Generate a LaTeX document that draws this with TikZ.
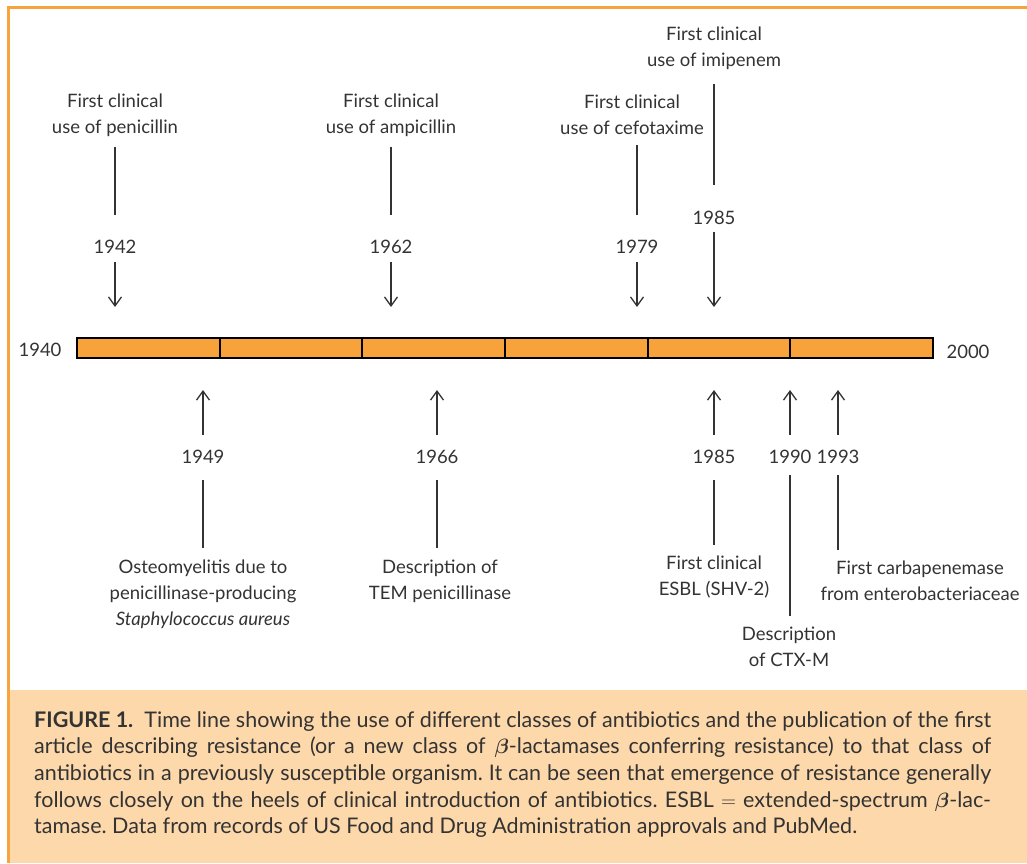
\documentclass[tikz,border=0pt]{standalone}
\usepackage{amsmath}
\usepackage{fontspec}
\setmainfont{Lato}
\usepackage{tikz}
\usetikzlibrary{arrows.meta}
\usepackage{xcolor}
\definecolor{frame orange}{RGB}{247,164,60}
\definecolor{bar orange}{RGB}{248,162,60}
\definecolor{caption tan}{RGB}{253,216,170}
\colorlet{ink}{black!80}
\newcommand{\boldbeta}{{\boldmath$\beta$}}

\begin{document}
\begin{tikzpicture}[x=1pt,y=-1pt,
		event/.style={align=center, inner sep=0pt, text=ink, font=\fontsize{18.5}{26}\selectfont},
		year/.style={inner sep=0pt, text=ink, font=\fontsize{18.5}{26}\selectfont},
		lead/.style={line width=1.3pt, color=ink},
		pointer/.style={line width=1.3pt, color=ink, -{Straight Barb[length=9pt,width=13pt,line width=1.3pt]}}]
			\useasboundingbox (0,0) rectangle (1027,863);
			% frame and caption panel
			\fill[caption tan] (9.5,690) rectangle (1027,863);
			\draw[frame orange, line width=3pt] (1027,7) -- (8,7) -- (8,863);
			% the time bar
			\draw[fill=bar orange, line width=2pt] (77,338) rectangle (933,358);
			\draw[line width=2pt] (220,338) -- (220,358);
			\draw[line width=2pt] (362,338) -- (362,358);
			\draw[line width=2pt] (505,338) -- (505,358);
			\draw[line width=2pt] (648,338) -- (648,358);
			\draw[line width=2pt] (790,338) -- (790,358);
			\node[year] (start) at (40,350) {1940};
			\node[year] (end) at (968,352) {2000};
			% clinical use, above the bar
			\node[event] (pen) at (115,115) {First clinical\\use of penicillin};
			\node[year] (y42) at (115,247) {1942};
			\coordinate (a42) at (115,307);
			\draw[lead, shorten <=10pt, shorten >=25pt] (pen) -- (y42);
			\draw[pointer, shorten <=8pt] (y42) -- (a42);
			\node[event] (amp) at (391,115) {First clinical\\use of ampicillin};
			\node[year] (y62) at (391,247) {1962};
			\coordinate (a62) at (391,307);
			\draw[lead, shorten <=10pt, shorten >=25pt] (amp) -- (y62);
			\draw[pointer, shorten <=8pt] (y62) -- (a62);
			\node[event] (cef) at (632,115) {First clinical\\use of cefotaxime};
			\node[year] (y79) at (637,247) {1979};
			\coordinate (a79) at (637,307);
			\draw[lead, shorten <=10pt, shorten >=25pt] (y79 |- cef.south) -- (y79);
			\draw[pointer, shorten <=8pt] (y79) -- (a79);
			\node[event] (imi) at (714,48) {First clinical\\use of imipenem};
			\node[year] (y85a) at (714,218) {1985};
			\coordinate (a85a) at (714,307);
			\draw[lead, shorten <=14pt, shorten >=26pt] (imi) -- (y85a);
			\draw[pointer, shorten <=7pt] (y85a) -- (a85a);
			% resistance, below the bar
			\node[event] (osteo) at (203,594) {Osteomyelitis due to\\penicillinase-producing\\\textit{Staphylococcus aureus}};
			\node[year] (y49) at (203,457) {1949};
			\coordinate (a49) at (203,390);
			\draw[pointer, shorten <=15pt] (y49) -- (a49);
			\draw[lead, shorten <=16pt, shorten >=11pt] (y49) -- (osteo);
			\node[event] (tem) at (440,581) {Description of\\TEM penicillinase};
			\node[year] (y66) at (437,457) {1966};
			\coordinate (a66) at (437,390);
			\draw[pointer, shorten <=15pt] (y66) -- (a66);
			\draw[lead, shorten <=16pt, shorten >=11pt] (y66) -- (y66 |- tem.north);
			\node[event] (esbl) at (714,577) {First clinical\\ESBL (SHV-2)};
			\node[year] (y85b) at (714,457) {1985};
			\coordinate (a85b) at (714,390);
			\draw[pointer, shorten <=15pt] (y85b) -- (a85b);
			\draw[lead, shorten <=16pt, shorten >=11pt] (y85b) -- (esbl);
			\node[event] (ctx) at (789,647) {Description\\of CTX-M};
			\node[year] (y90) at (790,457) {1990};
			\coordinate (a90) at (790,390);
			\draw[pointer, shorten <=15pt] (y90) -- (a90);
			\draw[lead, shorten <=11pt, shorten >=11pt] (y90) -- (y90 |- ctx.north);
			\node[event] (carba) at (920,581) {First carbapenemase\\from enterobacteriaceae};
			\node[year] (y93) at (838,457) {1993};
			\coordinate (a93) at (838,390);
			\draw[pointer, shorten <=15pt] (y93) -- (a93);
			\draw[lead, shorten <=11pt, shorten >=11pt] (y93) -- (y93 |- carba.north);
			% caption
			\node[anchor=north west, inner sep=0pt, text width=957pt, align=justify, text=ink,
				font=\fontsize{21.5}{26.7}\selectfont\frenchspacing] (caption) at (34,711)
				{\textbf{FIGURE 1.}\ \ Time line showing the use of different classes of antibiotics and the publication of the first\linebreak
				article describing resistance (or a new class of \boldbeta-lactamases conferring resistance) to that class of\linebreak
				antibiotics in a previously susceptible organism. It can be seen that emergence of resistance generally\linebreak
				follows closely on the heels of clinical introduction of antibiotics. ESBL $=$ extended-spectrum \boldbeta-lac-\linebreak
				tamase. Data from records of US Food and Drug Administration approvals and PubMed.};
		\end{tikzpicture}
\end{document}
